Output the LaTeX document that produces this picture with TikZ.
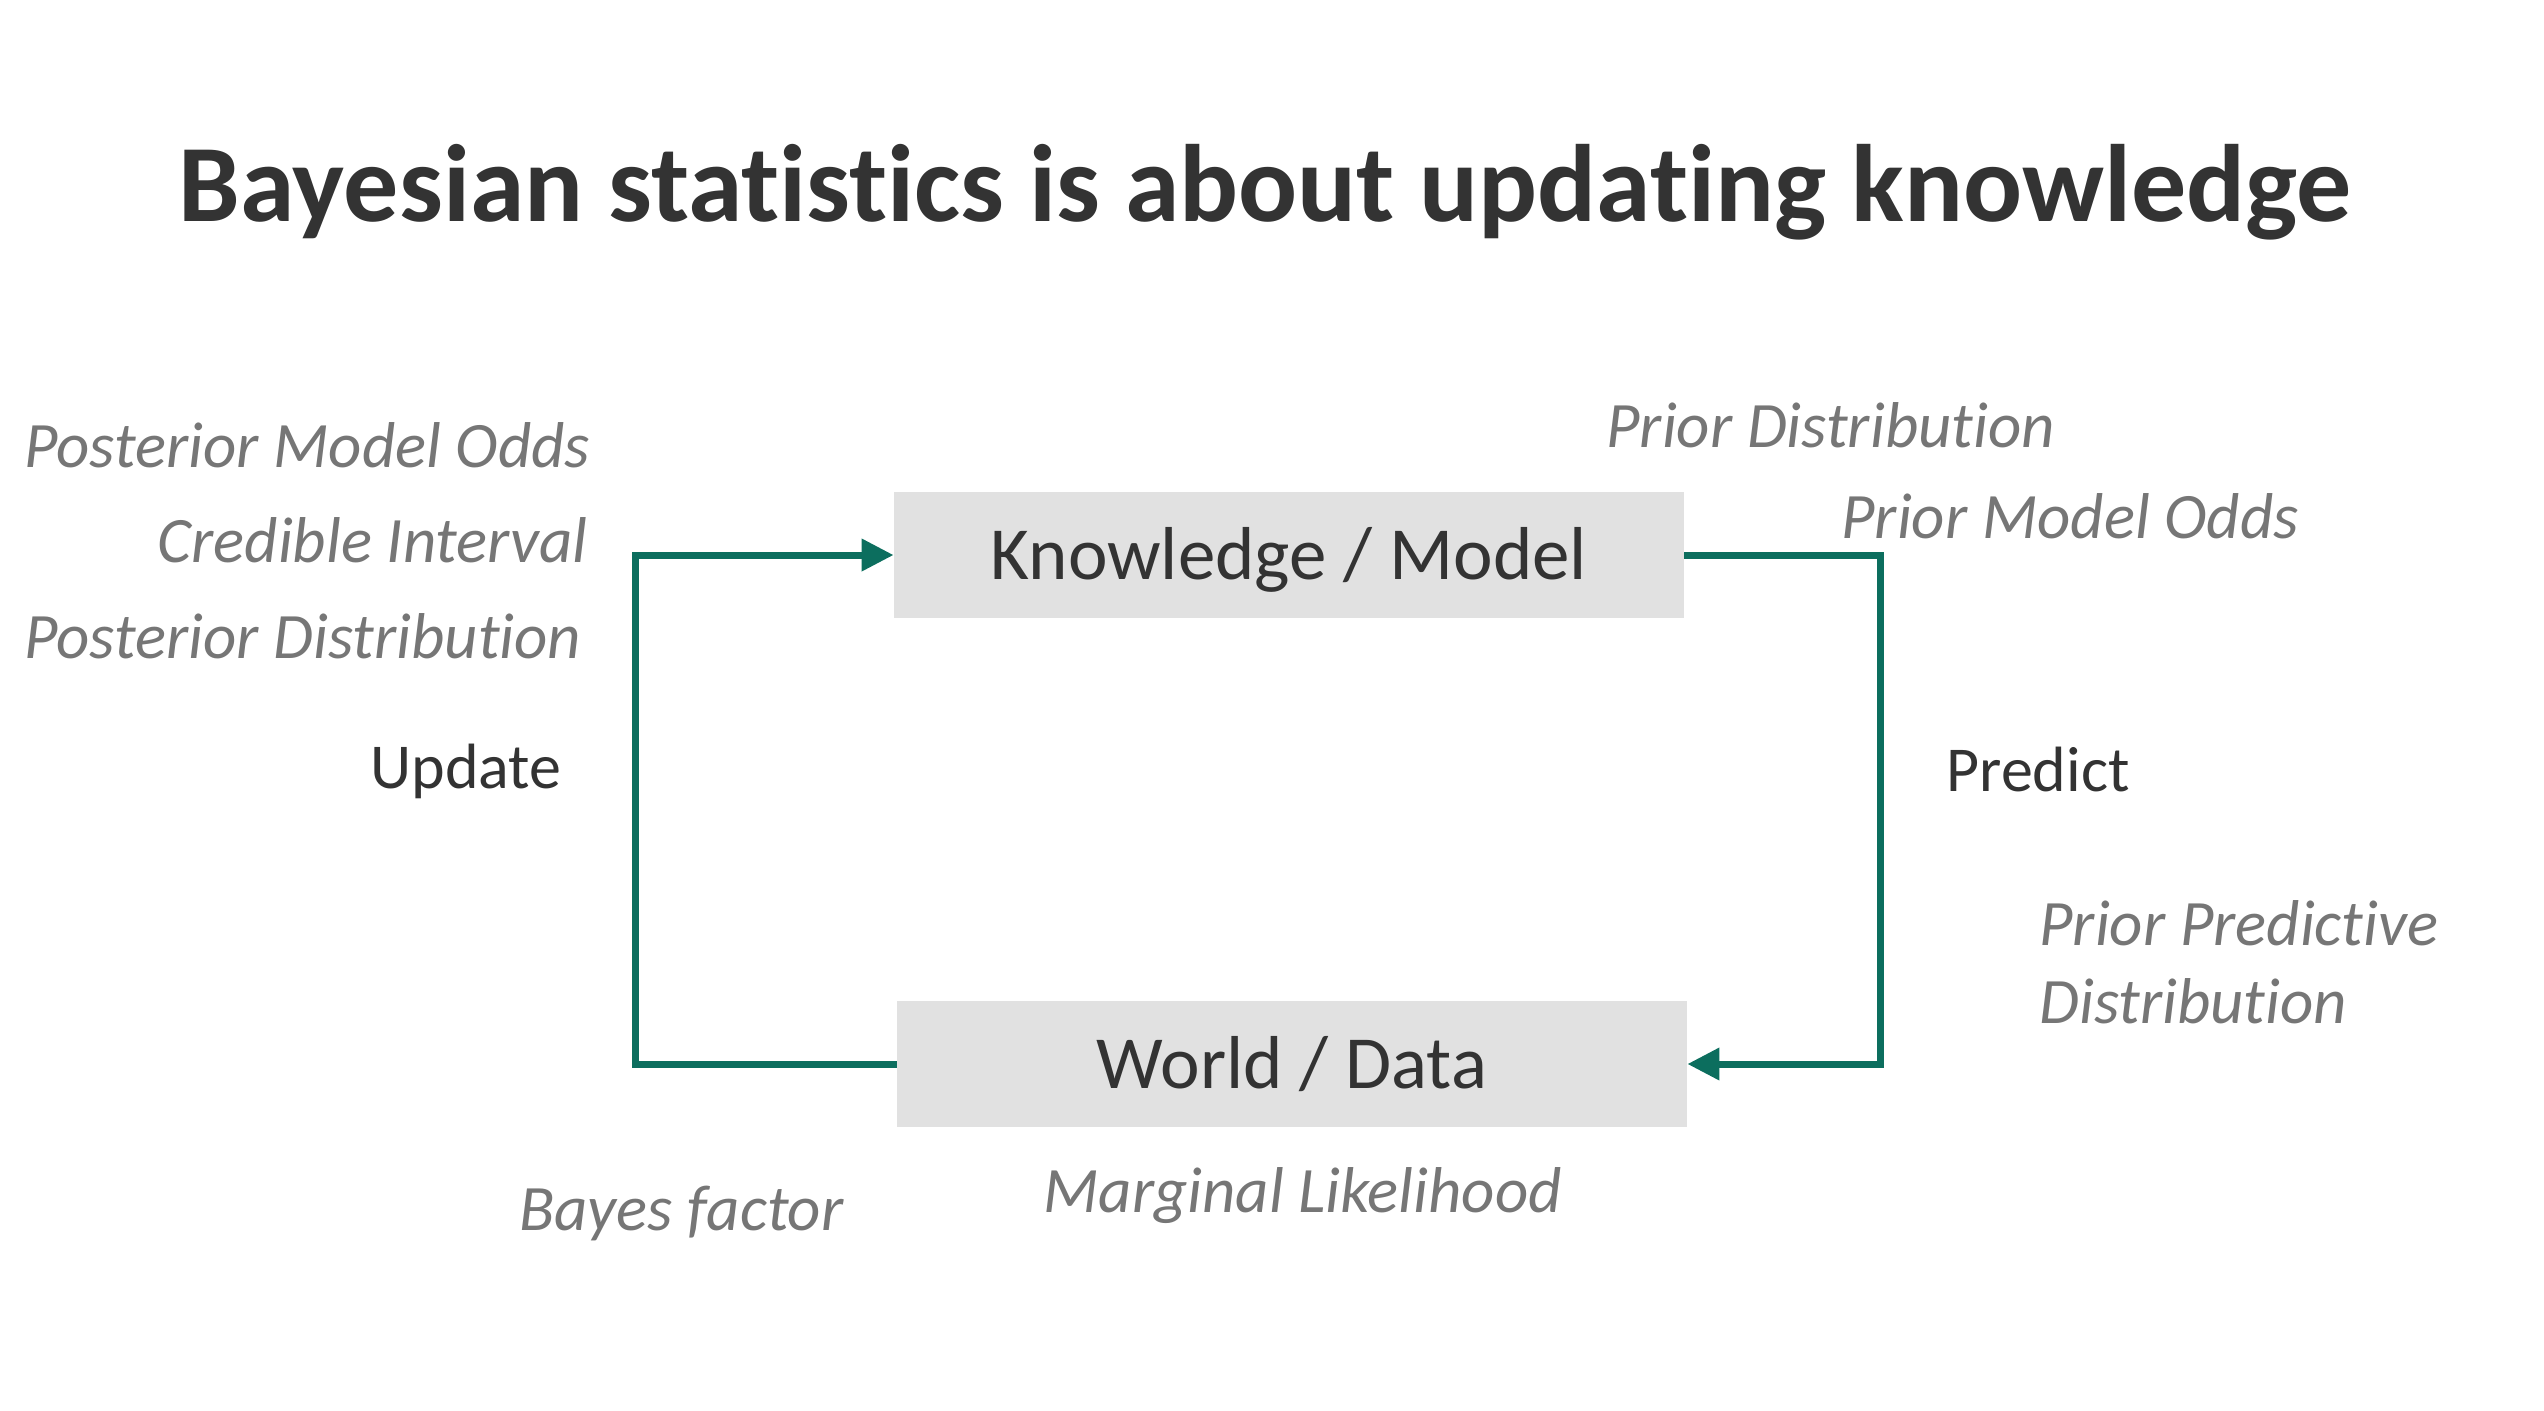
\documentclass[tikz,border=0pt]{standalone}
\usepackage{fontspec}
\setmainfont{Carlito}[Ligatures={NoCommon}]
\usetikzlibrary{arrows.meta}

\definecolor{flowteal}{RGB}{12,110,94}
\definecolor{boxgray}{RGB}{225,225,225}
\definecolor{labelgray}{RGB}{118,118,118}
\definecolor{inkdark}{RGB}{51,51,51}

\tikzset{
  stagebox/.style={fill=boxgray, draw=none, minimum width=395pt, minimum height=63pt,
    text height=24.5pt, text depth=0pt, inner sep=0pt, text=inkdark,
    font=\fontsize{37.5}{40}\selectfont},
  termlabel/.style={inner sep=0pt, text=labelgray, font=\fontsize{32.4}{39}\selectfont\itshape},
  actionlabel/.style={inner sep=0pt, text=inkdark, font=\fontsize{32}{39}\selectfont},
  flow/.style={draw=flowteal, line width=3.5pt, line join=miter},
  flowhead/.style={-{Triangle[length=16pt,width=15.5pt]}},
}

\begin{document}
\begin{tikzpicture}[x=0.5pt,y=-0.5pt]
  \useasboundingbox (0,0) rectangle (2544,1410);

  % heading
  \node[inner sep=0pt, anchor=base, text=inkdark,
        font=\fontsize{55}{60}\selectfont\bfseries] (title) at (1265,221)
        {Bayesian statistics is about updating knowledge};

  % the two stages of the cycle
  \node[stagebox] (know)  at (1289,555)  {Knowledge / Model};
  \node[stagebox] (world) at (1292,1064) {World / Data};

  % cycle connectors
  \draw[flow, flowhead] (world.west) -- ++(-261,0) |- (know.west);
  \draw[flow, flowhead] (know.east) -- ++(196,0) |- (world.east);

  % update side
  \node[termlabel, anchor=base west] (pmo)  at (24,467)  {Posterior Model Odds};
  \node[termlabel, anchor=base east] (ci)   at (588,562) {Credible Interval};
  \node[termlabel, anchor=base west] (pd)   at (24,658)  {Posterior Distribution};
  \node[actionlabel, anchor=base west] (update) at (370,788) {Update};

  % predict side
  \node[termlabel, anchor=base west] (prd)  at (1606,447) {Prior Distribution};
  \node[termlabel, anchor=base west] (prmo) at (1841,538) {Prior Model Odds};
  \node[actionlabel, anchor=base west] (predict) at (1946,791) {Predict};
  \node[termlabel, anchor=base west, align=left] (ppd) at (2039,1023)
        {Prior Predictive\\Distribution};

  % bottom
  \node[termlabel, anchor=base west] (bf) at (519,1230)  {Bayes factor};
  \node[termlabel, anchor=base west] (ml) at (1043,1212) {Marginal Likelihood};
\end{tikzpicture}
\end{document}
